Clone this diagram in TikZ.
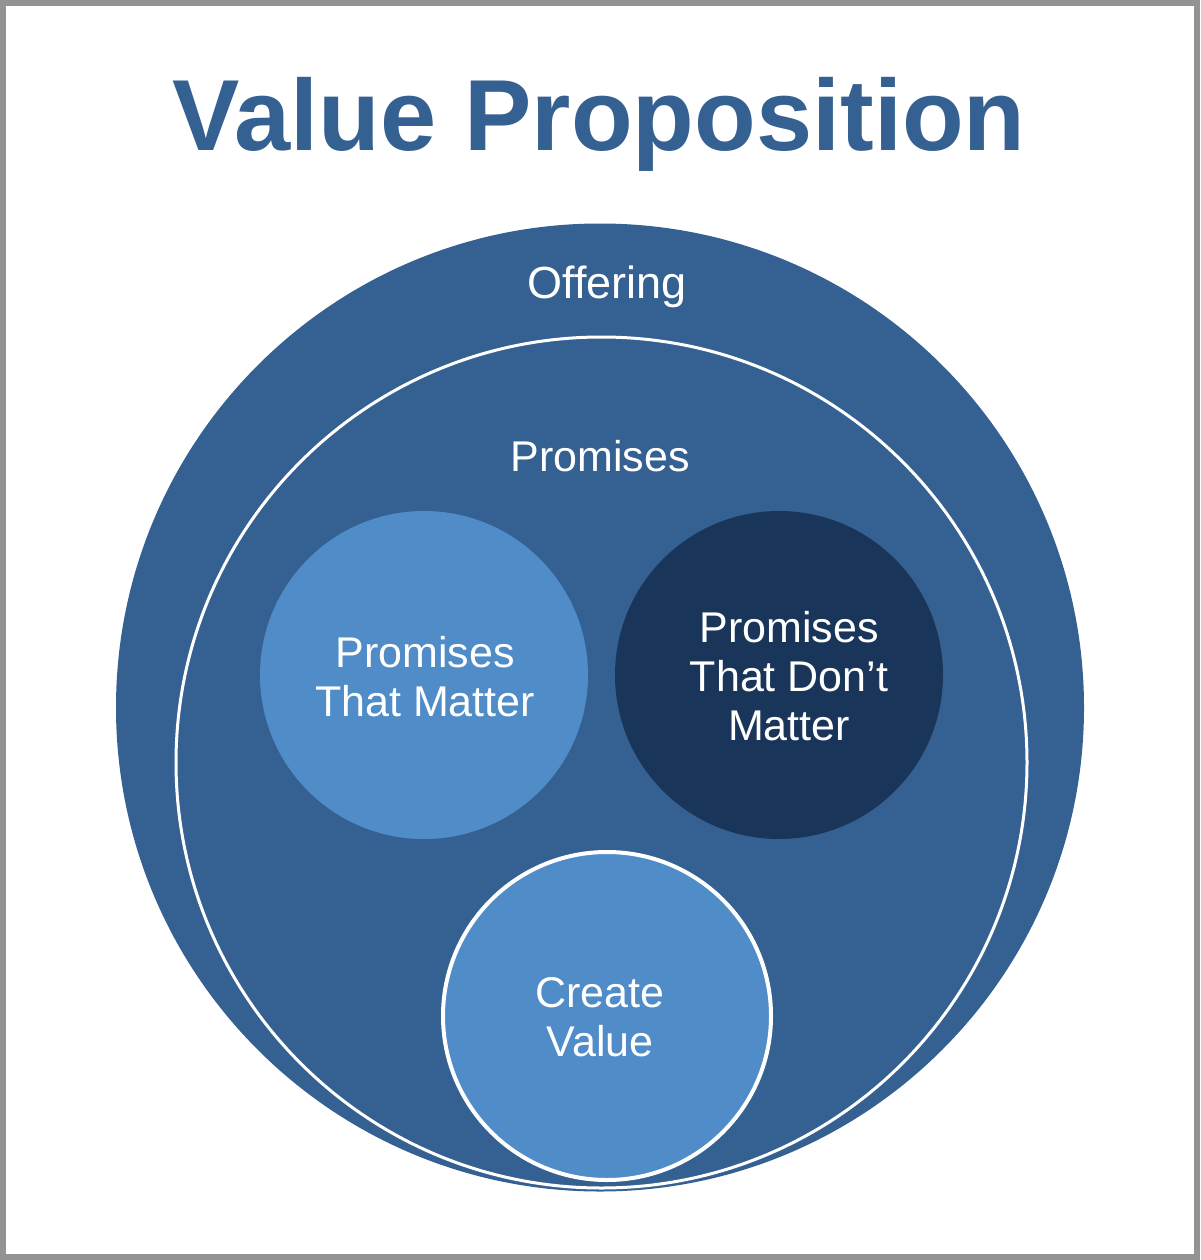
\documentclass[tikz,border=0pt]{standalone}
\usepackage{fontspec}
\setmainfont{Liberation Sans}
\definecolor{vpblue}{RGB}{53,97,146}
\definecolor{vplight}{RGB}{80,140,200}
\definecolor{vpnavy}{RGB}{26,53,90}
\definecolor{vpframe}{RGB}{147,147,147}
\begin{document}
\begin{tikzpicture}[x=1pt,y=-1pt,
  disc/.style={circle,inner sep=0pt,outer sep=0pt},
  lbl/.style={text=white,align=center,inner sep=0pt},
  big/.style={lbl,font=\fontsize{43}{49}\selectfont}]
\fill[vpframe] (0,0) rectangle (1200,1260);
\fill[white] (6,6) rectangle (1194,1254);
\useasboundingbox (0,0) rectangle (1200,1260);
\node[text=vpblue,font=\fontsize{101}{110}\selectfont\bfseries,anchor=base,inner sep=0pt] (title) at (599,151) {Value Proposition};
\node[disc,fill=vpblue,minimum size=968pt] (offer) at (600,707.5) {};
\node[disc,draw=white,line width=3pt,minimum size=851pt] (prom) at (601.5,762.5) {};
\node[disc,fill=vplight,minimum size=328pt] (ptm) at (424,675) {};
\node[disc,fill=vpnavy,minimum size=328pt] (ptdm) at (779,675) {};
\node[disc,fill=vplight,draw=white,line width=4pt,minimum size=328pt] (cv) at (607,1016) {};
\node[lbl,font=\fontsize{45}{50}\selectfont] (offerlbl) at (607,287) {Offering};
\node[big] (promlbl) at (600,456) {Promises};
\node[big] (ptmlbl) at (425,677) {Promises\\That Matter};
\node[big] (ptdmlbl) at (789,676) {Promises\\That Don’t\\Matter};
\node[big] (cvlbl) at (600,1017) {Create\\Value};
\end{tikzpicture}
\end{document}
